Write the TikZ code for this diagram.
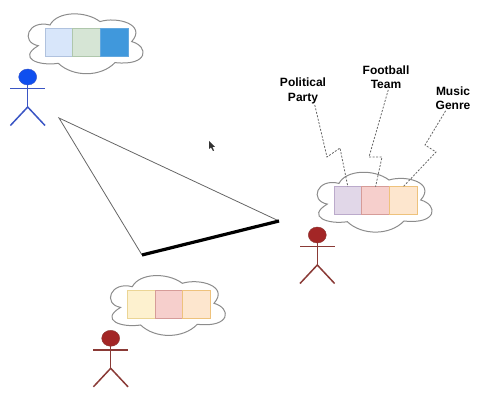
\documentclass[tikz,border=0pt]{standalone}
\usepackage{fontspec}
\setmainfont{Liberation Sans}
\usetikzlibrary{positioning}
\definecolor{cloudgray}{HTML}{8C8C8C}
\definecolor{bluefig}{HTML}{3A55C4}
\definecolor{bluehead}{HTML}{0F4FEF}
\definecolor{redfig}{HTML}{8A3A36}
\definecolor{redhead}{HTML}{A32626}
\definecolor{skyfill}{HTML}{D8E6FA}
\definecolor{skyline}{HTML}{B0C2DE}
\definecolor{sagefill}{HTML}{D6E5D5}
\definecolor{sageline}{HTML}{AFC7AC}
\definecolor{deepfill}{HTML}{4098DC}
\definecolor{deepline}{HTML}{63A8DF}
\definecolor{lilacfill}{HTML}{E1D7E8}
\definecolor{lilacline}{HTML}{BBAACB}
\definecolor{rosefill}{HTML}{F6CFCC}
\definecolor{roseline}{HTML}{D69C98}
\definecolor{peachfill}{HTML}{FDE6CE}
\definecolor{peachline}{HTML}{EEC27C}
\definecolor{creamfill}{HTML}{FDF1CF}
\definecolor{creamline}{HTML}{EBD595}
\tikzstyle{cell}=[rectangle,minimum width=27.7,minimum height=28,inner sep=0,outer sep=0,line width=.9pt]
\tikzstyle{dotline}=[dash pattern=on 2pt off 1.5pt,line width=.8pt,black!60]
\tikzstyle{tag}=[font=\fontsize{12}{14.5}\selectfont\bfseries,align=center,inner sep=1pt]
\tikzset{
	pics/cloudpic/.style={code={
		\draw[cloudgray,line width=1pt,fill=white] (-6.7,17.4)
			.. controls (-25,14) and (-17,-9) .. (5,-3.3)
			.. controls (12,-17) and (40,-18) .. (55,-6.7)
			.. controls (72,-12) and (102,-4) .. (86.7,13.3)
			.. controls (104,18) and (104,38) .. (70,34.3)
			.. controls (56,49) and (28,49) .. (13.3,35)
			.. controls (-6,38) and (-28,30) .. (-6.7,17.4)--cycle;
	}},
	pics/stickpic/.style 2 args={code={
		\draw[#1,line width=1.5pt] (0,0)--(0,30);
		\draw[#1,line width=1.5pt] (-17.3,11.5)--(17.3,11.5);
		\draw[#1,line width=1.5pt] (-17.3,48.5)--(0,30)--(17.3,48.5);
		\filldraw[draw=#1,fill=#2] (0,0) ellipse (9 and 8);
	}}
}
\begin{document}
\begin{tikzpicture}[x=1pt,y=-1pt,node distance=0pt]
\useasboundingbox (0,0) rectangle (484,403);

% triangle
\coordinate (apex) at (59,118);
\coordinate (left) at (142,255);
\coordinate (right) at (279,221);
\draw[black!60,line width=.8pt] (left)--(apex)--(right);
\draw[line width=3.2pt] (left)--(right);

% mouse pointer
\fill[black!80] (209,141)--(209,149)--(211,147.5)--(213,151)--(214,150.5)--(212.5,147)--(215,147)--cycle;

% people
\pic at (27.7,77) {stickpic={bluefig}{bluehead}};
\pic at (317.3,235) {stickpic={redfig}{redhead}};
\pic at (110.7,338.3) {stickpic={redfig}{redhead}};

% clouds
\pic at (45,28.3) {cloudpic};
\pic at (334,186.7) {cloudpic};
\pic at (127.3,290) {cloudpic};

\node[cell,anchor=north west,draw=skyline,fill=skyfill] (blueA) at (45,28.3) {};
\node[cell,right=of blueA,draw=sageline,fill=sagefill] (blueB) {};
\node[cell,right=of blueB,draw=deepline,fill=deepfill] (blueC) {};

\node[cell,anchor=north west,draw=lilacline,fill=lilacfill] (rightA) at (334,186.7) {};
\node[cell,right=of rightA,draw=roseline,fill=rosefill] (rightB) {};
\node[cell,right=of rightB,draw=peachline,fill=peachfill] (rightC) {};

\node[cell,anchor=north west,draw=creamline,fill=creamfill] (lowA) at (127.3,290) {};
\node[cell,right=of lowA,draw=roseline,fill=rosefill] (lowB) {};
\node[cell,right=of lowB,draw=peachline,fill=peachfill] (lowC) {};

% labels
\node[tag] (party) at (303,91) {Political\\Party};
\node[tag] (team) at (386,77) {Football\\Team};
\node[tag] (genre) at (453,98) {Music\\Genre};

\draw[dotline] (party.-50)--(327,157)--(340,148)--(rightA.north);
\draw[dotline] (team.-80)--(369,157)--(382,157)--(rightB.north);
\draw[dotline] (genre.-120)--(425,145)--(436,152)--(rightC.north);
\end{tikzpicture}
\end{document}
